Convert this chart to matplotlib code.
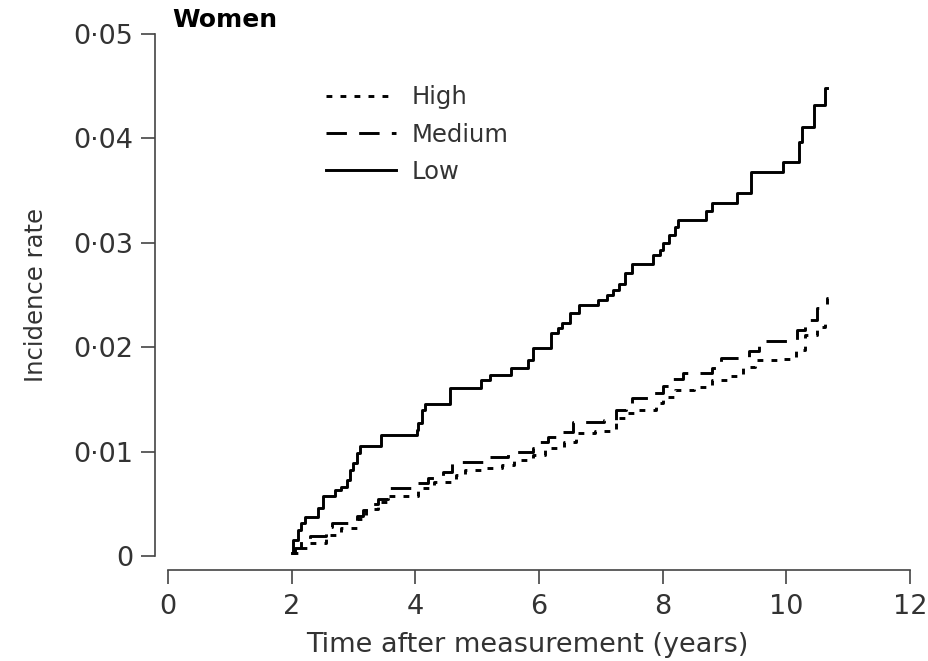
import matplotlib
matplotlib.use("Agg")
import matplotlib.pyplot as plt

# step curves (years, incidence rate)
low_t = [2.0, 2.02, 2.1, 2.15, 2.22, 2.43, 2.5, 2.7, 2.8, 2.9, 2.95, 3.0, 3.05, 3.1,
         3.45, 4.02, 4.05, 4.1, 4.15, 4.56, 5.07, 5.2, 5.55, 5.82, 5.9, 6.2, 6.3, 6.37,
         6.5, 6.64, 6.96, 7.1, 7.2, 7.3, 7.39, 7.5, 7.85, 7.95, 8.0, 8.1, 8.2, 8.25,
         8.7, 8.8, 9.21, 9.43, 9.94, 10.2, 10.25, 10.44, 10.63, 10.66]
low_r = [0.0003, 0.0015, 0.0025, 0.0032, 0.0037, 0.0046, 0.0057, 0.0063, 0.0066, 0.0073,
         0.0082, 0.0089, 0.0099, 0.0105, 0.0116, 0.0121, 0.0127, 0.014, 0.0146, 0.0161,
         0.0169, 0.0173, 0.018, 0.0188, 0.0199, 0.0214, 0.0218, 0.0223, 0.0233, 0.024,
         0.0245, 0.025, 0.0255, 0.0261, 0.0271, 0.028, 0.0288, 0.0293, 0.03, 0.0307,
         0.0315, 0.0322, 0.033, 0.0338, 0.0348, 0.0368, 0.0377, 0.0397, 0.0411, 0.0432,
         0.0448, 0.0448]

medium_t = [2.0, 2.05, 2.15, 2.3, 2.55, 2.65, 3.05, 3.15, 3.25, 3.4, 3.55, 4.05, 4.2,
            4.45, 4.6, 5.1, 5.5, 5.9, 6.0, 6.15, 6.3, 6.55, 7.05, 7.25, 7.4, 7.5, 7.85,
            8.0, 8.15, 8.33, 8.8, 8.95, 9.4, 9.55, 10.17, 10.3, 10.5, 10.66, 10.68]
medium_r = [0.0003, 0.0008, 0.0014, 0.0019, 0.0028, 0.0032, 0.0038, 0.0044, 0.005, 0.0055,
            0.0065, 0.007, 0.0075, 0.008, 0.009, 0.0095, 0.01, 0.0103, 0.0109, 0.0114,
            0.0119, 0.0128, 0.013, 0.014, 0.0146, 0.0151, 0.0156, 0.0163, 0.017, 0.0175,
            0.018, 0.019, 0.0196, 0.0206, 0.0216, 0.0226, 0.0238, 0.0247, 0.0247]

high_t = [2.0, 2.1, 2.25, 2.55, 2.8, 3.05, 3.2, 3.4, 3.55, 4.05, 4.3, 4.65, 4.8, 5.1,
          5.4, 5.6, 5.9, 6.1, 6.4, 6.6, 6.9, 7.25, 7.4, 7.55, 7.9, 8.0, 8.2, 8.5, 8.8,
          9.05, 9.3, 9.5, 9.9, 10.15, 10.3, 10.5, 10.62, 10.66]
high_r = [0.0003, 0.0008, 0.0012, 0.002, 0.0027, 0.0035, 0.0045, 0.0052, 0.0057, 0.0065,
          0.0071, 0.0078, 0.0082, 0.0084, 0.0087, 0.0092, 0.0097, 0.0103, 0.0109, 0.0118,
          0.012, 0.0132, 0.0137, 0.014, 0.0147, 0.0152, 0.0159, 0.0162, 0.0169, 0.0172,
          0.0181, 0.0188, 0.0189, 0.0197, 0.0212, 0.0219, 0.0226, 0.0226]

x_ticks = [0, 2, 4, 6, 8, 10, 12]
y_ticks = [0, 0.01, 0.02, 0.03, 0.04, 0.05]
y_labels = ["0", "0\u00b701", "0\u00b702", "0\u00b703", "0\u00b704", "0\u00b705"]

plt.rcParams['font.family'] = ['DejaVu Sans']
grey = '#444444'
txt = '#333333'

fig = plt.figure(figsize=(9.29, 6.61), dpi=100)
ax = fig.add_axes([168 / 929, 1 - 556 / 661, 742 / 929, 522 / 661])

lw = 2.1
ax.step(high_t, high_r, where='post', color='black', lw=lw,
        linestyle=(0, (2.0, 2.8)), label='High')
ax.step(medium_t, medium_r, where='post', color='black', lw=lw,
        linestyle=(0, (7.0, 4.2)), label='Medium')
ax.step(low_t, low_r, where='post', color='black', lw=lw, label='Low')

ax.set_xlim(0, 12)
ax.set_ylim(0, 0.05)
ax.set_xticks(x_ticks)
ax.set_yticks(y_ticks)
ax.set_yticklabels(y_labels)

for side in ['top', 'right']:
    ax.spines[side].set_visible(False)
ax.spines['left'].set_position(('outward', 9))
ax.spines['bottom'].set_position(('outward', 10))
for side in ['left', 'bottom']:
    ax.spines[side].set_color(grey)
    ax.spines[side].set_linewidth(1.2)
ax.tick_params(axis='both', direction='out', length=10, width=1.2, color=grey,
               labelsize=19.5, labelcolor=txt)
ax.tick_params(axis='y', pad=6)
ax.tick_params(axis='x', pad=7)

ax.set_xlabel('Time after measurement (years)', fontsize=19.5, color=txt, labelpad=9)
ax.xaxis.label.set_x(0.484)
ax.set_ylabel('Incidence rate', fontsize=17.5, color=txt, labelpad=18)

fig.text(172 / 929, 1 - 20 / 661, 'Women', fontsize=18, fontweight='bold',
         ha='left', va='center')

ax.legend(loc='upper left', bbox_to_anchor=(0.2125, 0.902), frameon=False,
          fontsize=17.5, handlelength=2.9, handletextpad=0.62, labelspacing=0.55,
          borderpad=0, borderaxespad=0, labelcolor=txt)

fig.savefig('out.png', dpi=100)
